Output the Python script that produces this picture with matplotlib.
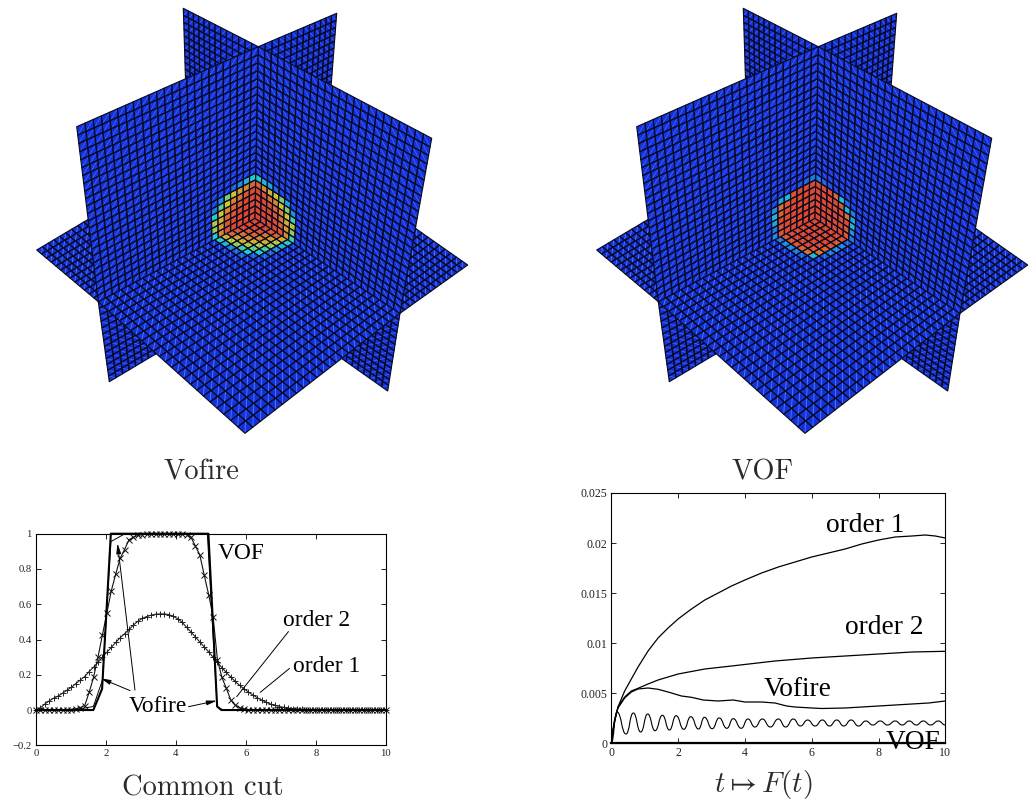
"""
plot.py
Two 3D slice views of a scalar field (Vofire / VOF) above a common cut and an error curve.
"""

import numpy as np
import matplotlib
matplotlib.use('Agg')
import matplotlib.pyplot as plt
from matplotlib.collections import PolyCollection, LineCollection
from matplotlib.colors import LinearSegmentedColormap
from matplotlib.path import Path
from matplotlib.patches import PathPatch

W, H = 1032, 802
NEAR = 24   # cells between the crossing and the near edges
FAR = 13    # cells between the crossing and the far edges

# ── Mesh corners as they land in the left panel (pixels) ──
CROSS = (255, 218.3)
AXIS_TOP = (258.3, 46.7)
AXIS_LOW = (253, 296)
A_NEAR_TOP = (76.7, 126.7)
A_NEAR_MID = (98.3, 301.7)
A_NEAR_LOW = (109.3, 381.7)
A_FAR_TOP = (336.7, 13.3)
A_FAR_MID = (325, 165)
B_NEAR_TOP = (431.7, 138.3)
B_NEAR_MID = (400, 313.3)
B_NEAR_LOW = (387.7, 391)
B_FAR_TOP = (183.3, 8.3)
B_FAR_MID = (188, 160)
FLOOR_FRONT = (245, 433.3)
FLOOR_LEFT = (36.7, 250)
FLOOR_RIGHT = (467.7, 265)
PANEL_SHIFT = [0, 560]

# ── Field values around the plane crossing (row = cells from crossing, col = cells from crossing) ──
VOFIRE_WALL_A = [[1, 1, 1, 1, .95, .8, .35],
                 [1, 1, 1, 1, .95, .75, .55],
                 [1, 1, 1, .95, .9, .7, .6],
                 [1, 1, .95, .9, .8, .65, .35],
                 [1, .95, .85, .8, .65, .45, .15],
                 [.9, .8, .75, .65, .5, .2, 0],
                 [.35, .3, .2, .1, 0, 0, 0]]
VOFIRE_WALL_B = [[1, 1, 1, 1, .95, .8, .4],
                 [1, 1, 1, 1, .9, .75, .55],
                 [1, 1, 1, .95, .85, .7, .6],
                 [1, 1, .95, .9, .8, .65, .4],
                 [1, .95, .85, .8, .65, .5, .2],
                 [.9, .8, .7, .65, .5, .25, 0],
                 [.35, .3, .25, .1, 0, 0, 0]]
VOFIRE_FLOOR = [[1, 1, 1, .95, .9, .7, .35],
                [1, 1, .95, .85, .75, .6, .3],
                [1, .95, .9, .8, .7, .55, .2],
                [.95, .85, .8, .7, .6, .4, .1],
                [.9, .75, .7, .6, .45, .35, .1],
                [.7, .6, .55, .4, .35, .1, 0],
                [.35, .3, .2, .1, .1, 0, 0]]
VOF_WALL_A = [[1, 1, 1, 1, 1, .95, .2],
              [1, 1, 1, 1, 1, .95, .15],
              [1, 1, 1, 1, 1, 1, .25],
              [1, 1, 1, 1, 1, .9, .3],
              [1, 1, 1, 1, .95, .85, .2],
              [1, 1, 1, .95, .3, .25, 0],
              [.15, .1, .05, 0, 0, 0, 0]]
VOF_WALL_B = [[1, 1, 1, 1, 1, .95, .15],
              [1, 1, 1, 1, 1, .95, .2],
              [1, 1, 1, 1, 1, 1, .3],
              [1, 1, 1, 1, 1, .85, .25],
              [1, 1, 1, 1, .95, .3, .15],
              [1, 1, 1, .9, .3, .1, 0],
              [.15, .1, .05, 0, 0, 0, 0]]
VOF_FLOOR = [[1, 1, 1, 1, 1, .95, .1],
             [1, 1, 1, 1, 1, .95, .2],
             [1, 1, 1, 1, 1, .95, .2],
             [1, 1, 1, 1, 1, .9, .15],
             [1, 1, 1, 1, .95, .85, .1],
             [.95, .95, .95, .9, .85, .3, 0],
             [.15, .2, .2, .15, .1, 0, 0]]

FIELD_COLORS = [(0.0, '#1432dc'), (0.2, '#148cdc'), (0.35, '#14dcc8'), (0.5, '#82dc50'),
                (0.65, '#e6d20a'), (0.85, '#f06e0a'), (1.0, '#f03c0a')]

# ── Common cut ──
CUT_POINTS = 80
CUT_ORDER1 = [0, .012, .035, .052, .067, .079, .096, .112, .129, .15, .17, .19, .218, .243, .27, .30,
              .328, .355, .383, .41, .432, .457, .482, .503, .52, .53, .538, .543, .545, .545, .541,
              .532, .518, .498, .47, .443, .415, .386, .358, .33, .30, .27, .24, .213, .187, .162,
              .14, .12, .102, .085, .07, .056, .044, .034, .026, .02, .015, .011, .008, .006, .004,
              .003, .002, .001] + [0] * 16
CUT_ORDER2 = [0] * 7 + [.001, .003, .007, .014, .025, .10, .185, .30, .425, .55, .675, .77, .86, .91,
                        .965, .98, .99, .995, .998] + [1] * 8 + [.995, .98, .93, .88, .765, .655, .53,
                        .283, .185, .123, .057, .028, .012, .006, .003, .001] + [0] * 30
CUT_VOFIRE_X = [0, 1.2, 1.64, 1.9, 2.14, 2.5, 2.8, 4.9, 5.18, 5.35, 10]
CUT_VOFIRE_Y = [0, .005, .02, .17, .955, .995, 1, 1, .02, 0, 0]
CUT_VOF_X = [0, 1.64, 1.89, 2.14, 4.93, 5.18, 5.3, 10]
CUT_VOF_Y = [0, 0, .12, 1, 1, .02, 0, 0]
CUT_XTICKS = [0, 2, 4, 6, 8, 10]
CUT_YTICKS = [-0.2, 0, 0.2, 0.4, 0.6, 0.8, 1]
CUT_YLABELS = ['\u22120.2', '0', '0.2', '0.4', '0.6', '0.8', '1']

# ── t -> F(t) ──
ORDER1_T = [0, .05, .1, .2, .4, .6, .8, 1.1, 1.4, 1.7, 2, 2.4, 2.8, 3.2, 3.6, 4, 4.5, 5, 5.5, 6,
            6.5, 7, 7.5, 8, 8.5, 9, 9.4, 9.7, 10]
F_ORDER1 = [0, .0012, .0021, .0036, .0052, .0064, .0076, .0092, .0105, .0115, .0124, .0134, .0143,
            .0150, .0157, .0163, .0170, .0176, .0181, .0186, .0190, .0194, .0199, .0203, .0206,
            .0207, .0208, .0207, .0205]
ORDER2_T = [0, .05, .1, .2, .4, .6, .8, 1.1, 1.4, 2, 2.8, 3.6, 4.9, 6, 7, 8, 9, 10]
F_ORDER2 = [0, .0013, .0023, .0036, .0046, .0052, .00547, .0059, .0063, .0069, .0074, .0077,
            .0082, .0085, .0087, .0089, .0091, .00917]
VOFIRE_T = [0, .05, .1, .2, .4, .6, .8, 1.1, 1.4, 1.7, 2.1, 2.4, 2.75, 3.2, 3.65, 4, 4.5, 4.9, 5.25,
            5.5, 6, 6.3, 7, 7.5, 8, 8.5, 9, 9.5, 10]
F_VOFIRE = [0, .0013, .0023, .0035, .0045, .0051, .0054, .0055, .00537, .0051, .0047, .00457, .0043,
            .0042, .0043, .0041, .0041, .0040, .0037, .0036, .0035, .00345, .0035, .0036, .0037,
            .0038, .0039, .0040, .0042]
# turning points of the wavy curve
WAVE_T = [0, .17, .44, .66, .88, 1.09, 1.31, 1.53, 1.74, 1.94, 2.17, 2.38, 2.61, 2.79, 3.02, 3.23, 3.46,
          3.65, 3.89, 4.09, 4.3, 4.52, 4.76, 5.0, 5.22, 5.45, 5.66, 5.88, 6.1, 6.32, 6.53, 6.75, 6.96,
          7.18, 7.4, 7.62, 7.83, 8.05, 8.27, 8.5, 8.71, 8.92, 9.13, 9.34, 9.56, 9.79, 10]
F_WAVE = [0, .0031, .0009, .0030, .0011, .0029, .00123, .00277, .0013, .00273, .00137, .00263, .0014,
          .00257, .00143, .0025, .00147, .00243, .00147, .0024, .0016, .0024, .0016, .0024, .0016,
          .0024, .0017, .0023, .0017, .0023, .0017, .0023, .0017, .0023, .0017, .0022, .0018, .0022,
          .0018, .0022, .0018, .0022, .0018, .0022, .0018, .0022, .0018]
F_VOF_T = [0, 10]
F_VOF = [0, 0]
F_XTICKS = [0, 2, 4, 6, 8, 10]
F_YTICKS = [0, 0.005, 0.01, 0.015, 0.02, 0.025]
F_YLABELS = ['0', '0.005', '0.01', '0.015', '0.02', '0.025']

plt.rcParams['font.family'] = ['Liberation Serif', 'DejaVu Serif']
plt.rcParams['mathtext.fontset'] = 'cm'

field_cmap = LinearSegmentedColormap.from_list('field', FIELD_COLORS)


def fit_homography(corners):
    # unit square -> the four corners, in the order c00, c10, c11, c01
    rows, rhs = [], []
    for (s, t), (u, v) in zip([(0, 0), (1, 0), (1, 1), (0, 1)], corners):
        rows.append([s, t, 1, 0, 0, 0, -u * s, -u * t])
        rows.append([0, 0, 0, s, t, 1, -v * s, -v * t])
        rhs += [u, v]
    h = np.linalg.solve(np.array(rows, float), np.array(rhs, float))
    return np.append(h, 1).reshape(3, 3)


def draw_patch(ax, dx, c00, c10, c01, c11, nu, nv, table, streak, layer):
    """One quadrant of a cut plane, u and v cells counted from the crossing."""
    mat = fit_homography([c00, c10, c11, c01])
    polys, colors, diags = [], [], []
    for a in range(nu):
        for b in range(nv):
            pts = np.array([[a / nu, b / nv, 1], [(a + 1) / nu, b / nv, 1],
                            [(a + 1) / nu, (b + 1) / nv, 1], [a / nu, (b + 1) / nv, 1]])
            hom = pts @ mat.T
            quad = hom[:, :2] / hom[:, 2:] + [dx, 0]
            polys.append(quad)
            value = table[b][a] if table is not None and b < len(table) and a < len(table[0]) else 0
            colors.append(field_cmap(float(value)))
            # lighter streak of the triangulated mesh
            if streak == 'front':
                diags.append([quad[0], quad[2]])
            else:
                diags.append([quad[1], quad[3]])
    streak_alpha = 0.55 if streak == 'wall' else 0.85
    ax.add_collection(PolyCollection(polys, facecolors=colors, edgecolors='none', zorder=layer))
    ax.add_collection(LineCollection(diags, colors='#5a8cff', linewidths=0.6, alpha=streak_alpha,
                                     zorder=layer + 0.1))
    ax.add_collection(PolyCollection(polys, facecolors='none', edgecolors='#08081e',
                                     linewidths=0.8, zorder=layer + 0.2))


def draw_scene(ax, dx, wall_a, wall_b, floor):
    # back to front: walls below the floor, floor, walls above the floor
    draw_patch(ax, dx, CROSS, A_NEAR_MID, AXIS_LOW, A_NEAR_LOW, NEAR, FAR, None, 'wall', 1)
    draw_patch(ax, dx, CROSS, B_NEAR_MID, AXIS_LOW, B_NEAR_LOW, NEAR, FAR, None, 'wall', 2)
    draw_patch(ax, dx, CROSS, A_NEAR_MID, B_FAR_MID, FLOOR_LEFT, NEAR, FAR, None, 'floor', 3)
    draw_patch(ax, dx, CROSS, B_NEAR_MID, A_FAR_MID, FLOOR_RIGHT, NEAR, FAR, None, 'floor', 4)
    draw_patch(ax, dx, CROSS, B_NEAR_MID, A_NEAR_MID, FLOOR_FRONT, NEAR, NEAR, floor, 'front', 5)
    draw_patch(ax, dx, CROSS, B_FAR_MID, AXIS_TOP, B_FAR_TOP, FAR, NEAR, None, 'wall', 6)
    draw_patch(ax, dx, CROSS, A_FAR_MID, AXIS_TOP, A_FAR_TOP, FAR, NEAR, None, 'wall', 7)
    draw_patch(ax, dx, CROSS, A_NEAR_MID, AXIS_TOP, A_NEAR_TOP, NEAR, NEAR, wall_a, 'wall', 8)
    draw_patch(ax, dx, CROSS, B_NEAR_MID, AXIS_TOP, B_NEAR_TOP, NEAR, NEAR, wall_b, 'wall', 9)


def chart_axes(fig, left, right, top, bottom):
    ax = fig.add_axes([left / W, 1 - bottom / H, (right - left) / W, (bottom - top) / H])
    ax.tick_params(direction='in', top=True, right=True, length=3.6, width=0.7, pad=3,
                   colors='#222222')
    for spine in ax.spines.values():
        spine.set_linewidth(0.8)
    return ax


def note_line(ax, start, end, head=True):
    style = '-|>,head_width=0.14,head_length=0.6' if head else '-'
    ax.annotate('', xy=end, xytext=start, zorder=6,
                arrowprops=dict(arrowstyle=style, color='black', lw=0.7, shrinkA=0, shrinkB=0))


fig = plt.figure(figsize=(W / 100, H / 100), dpi=100, facecolor='white')

scene = fig.add_axes([0, 0, 1, 1])
scene.set_xlim(0, W)
scene.set_ylim(H, 0)
scene.axis('off')

draw_scene(scene, PANEL_SHIFT[0], VOFIRE_WALL_A, VOFIRE_WALL_B, VOFIRE_FLOOR)
draw_scene(scene, PANEL_SHIFT[1], VOF_WALL_A, VOF_WALL_B, VOF_FLOOR)

# Captions are in the document's Computer Modern
caption = dict(family='cmr10', fontsize=20.5, color='#2a2a2a', ha='center', va='baseline')
scene.text(201, 479, 'Vofire', **caption)
scene.text(762, 479, 'VOF', **caption)
scene.text(203, 795, 'Common cut', **caption)
scene.text(763, 792, r'$t \mapsto F(t)$', fontsize=21, color='#2a2a2a', ha='center', va='baseline')

# ── Common cut ──
ax = chart_axes(fig, 36, 385.7, 533.7, 745.3)
cut_x = np.linspace(0, 10, CUT_POINTS)
ax.plot(cut_x, CUT_ORDER1, color='#222222', lw=0.8, marker='+', ms=5, mew=0.7, clip_on=False)
ax.plot(cut_x, CUT_ORDER2, color='#111111', lw=0.8, marker='x', ms=4.2, mew=0.7, clip_on=False)
ax.plot(CUT_VOFIRE_X, CUT_VOFIRE_Y, color='black', lw=0.7, clip_on=False)
ax.plot(CUT_VOF_X, CUT_VOF_Y, color='black', lw=1.5, clip_on=False)
ax.set_xlim(0, 10)
ax.set_ylim(-0.2, 1)
ax.set_xticks(CUT_XTICKS)
ax.set_yticks(CUT_YTICKS)
ax.set_yticklabels(CUT_YLABELS)
ax.tick_params(labelsize=7.7)

note_line(ax, (2.83, .113), (2.33, .945))
note_line(ax, (2.69, .11), (1.85, .18))
note_line(ax, (4.36, .019), (5.17, .053))
note_line(ax, (7.22, .445), (5.74, .076), head=False)
note_line(ax, (7.25, .236), (6.41, .10), head=False)
ax.text(5.21, .856, 'VOF', fontsize=16.8, va='baseline')
ax.text(7.05, .478, 'order 2', fontsize=16.8, va='baseline')
ax.text(7.36, .217, 'order 1', fontsize=16.8, va='baseline')
ax.text(2.64, -.013, 'Vofire', fontsize=16.8, va='baseline')

# ── t -> F(t) ──
ax = chart_axes(fig, 611.3, 945.3, 493, 743)
ax.plot(ORDER1_T, F_ORDER1, color='black', lw=0.9)
ax.plot(ORDER2_T, F_ORDER2, color='black', lw=0.9)
ax.plot(VOFIRE_T, F_VOFIRE, color='black', lw=0.9)
ax.plot(F_VOF_T, F_VOF, color='black', lw=1.6, clip_on=False)

# wave is smoothed between its turning points with the path's own curves
verts, codes = [(WAVE_T[0], F_WAVE[0])], [Path.MOVETO]
for t0, y0, t1, y1 in zip(WAVE_T[:-1], F_WAVE[:-1], WAVE_T[1:], F_WAVE[1:]):
    mid = (t0 + t1) / 2
    verts += [(mid, y0), (mid, y1), (t1, y1)]
    codes += [Path.CURVE4] * 3
ax.add_patch(PathPatch(Path(verts, codes), fill=False, edgecolor='black', lw=0.8))

ax.set_xlim(0, 10)
ax.set_ylim(0, 0.025)
ax.set_xticks(F_XTICKS)
ax.set_yticks(F_YTICKS)
ax.set_yticklabels(F_YLABELS)
ax.tick_params(labelsize=8.6)

ax.text(6.43, .02113, 'order 1', fontsize=19.7, va='baseline')
ax.text(7.0, .01087, 'order 2', fontsize=19.7, va='baseline')
ax.text(4.57, .0047, 'Vofire', fontsize=19.7, va='baseline')
ax.text(8.22, -.00063, 'VOF', fontsize=19.7, va='baseline', zorder=6)

fig.savefig('out.png', dpi=100)
plt.close(fig)
